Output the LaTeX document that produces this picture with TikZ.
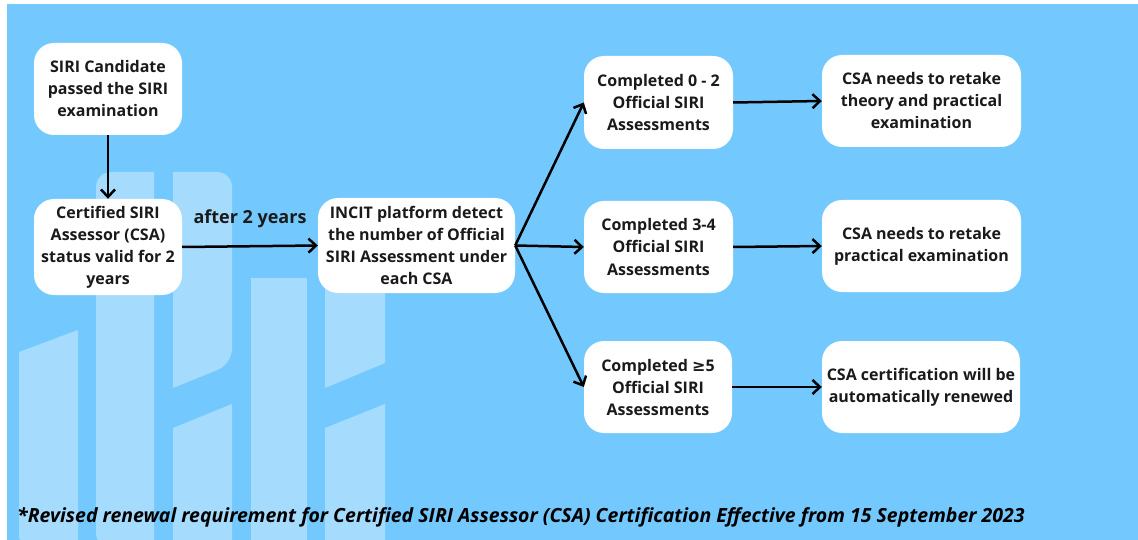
\documentclass[tikz,border=0pt]{standalone}
\usepackage{fontspec}
\setmainfont{Open Sans}
\newfontfamily\symfont{DejaVu Sans}
\usetikzlibrary{arrows.meta}
\definecolor{bgblue}{HTML}{73C9FD}
\definecolor{barblue}{HTML}{A5DCFD}
\definecolor{ink}{HTML}{1A1A1A}
\tikzset{
  box/.style={fill=white, rounded corners=20pt, align=center, font=\fontsize{16}{22}\selectfont\bfseries, text=ink, inner sep=0pt},
  conn/.style={draw=black, line width=2.5pt, -{Straight Barb[length=7.5pt,width=14pt,line width=2.5pt]}},
  bar/.style={fill=barblue, draw=none}
}
\begin{document}
\begin{tikzpicture}[x=1pt,y=-1pt]
\useasboundingbox (0,0) rectangle (1138,540);
\fill[white] (0,0) rectangle (1138,540);
\fill[bgblue] (7,4) rectangle (1138,540);
% background bars
\begin{scope}
\clip (7,4) rectangle (1138,540);
\fill[bar] (19,352) -- (78,330) -- (78,548) [rounded corners=12pt] -- (19,548) [sharp corners] -- cycle;
\fill[bar] (154,548) -- (154,172) [rounded corners=15pt] -- (96,172) -- (96,548) [sharp corners] -- cycle;
\fill[bar] (173,388) -- (173,172) [rounded corners=15pt] -- (232,172) -- (232,364) [sharp corners] -- cycle;
\fill[bar] (173,428) -- (232,404) -- (232,548) -- (173,548) -- cycle;
\fill[bar] (251,278) -- (307,278) -- (307,548) -- (251,548) -- cycle;
\fill[bar] (325,250) -- (385,250) -- (385,363) -- (325,388) -- cycle;
\fill[bar] (325,428) -- (385,404) -- (385,548) -- (325,548) -- cycle;
\end{scope}
% nodes
\node[box, minimum width=148pt, minimum height=92pt] (a) at (108,89) {SIRI Candidate\\passed the SIRI\\examination};
\node[box, minimum width=148pt, minimum height=96pt] (b) at (108,247) {Certified SIRI\\Assessor (CSA)\\status valid for 2\\years};
\node[box, minimum width=197pt, minimum height=95pt] (c) at (416.5,245.5) {INCIT platform detect\\the number of Official\\SIRI Assessment under\\each CSA};
\node[box, minimum width=149pt, minimum height=93pt] (d1) at (658.5,102.5) {Completed 0 - 2\\Official SIRI\\Assessments};
\node[box, minimum width=149pt, minimum height=92pt] (d2) at (658.5,247) {Completed 3-4\\Official SIRI\\Assessments};
\node[box, minimum width=148pt, minimum height=92pt] (d3) at (658,387) {Completed {\symfont\bfseries ≥}5\\Official SIRI\\Assessments};
\node[box, minimum width=199pt, minimum height=92pt] (e1) at (921.5,101) {CSA needs to retake\\theory and practical\\examination};
\node[box, minimum width=199pt, minimum height=92pt] (e2) at (921.5,246) {CSA needs to retake\\practical examination};
\node[box, minimum width=198pt, minimum height=92pt] (e3) at (921,387) {CSA certification will be\\automatically renewed};
\node[font=\fontsize{18}{20}\selectfont\bfseries, text=ink, inner sep=0pt] (lbl) at (250,219) {after 2 years};
\node[font=\fontsize{19.5}{22}\selectfont\bfseries\itshape, text=black, anchor=west, inner sep=0pt] (foot) at (17,517) {*Revised renewal requirement for Certified SIRI Assessor (CSA) Certification Effective from 15 September 2023};
% connectors
\draw[conn] (a.south) -- (b.north);
\draw[conn] (b.east) -- (c.west);
\draw[conn] (c.east) -- (d1.west);
\draw[conn] (c.east) -- (d2.west);
\draw[conn] (c.east) -- (d3.west);
\draw[conn] (d1.east) -- (e1.west);
\draw[conn] (d2.east) -- (e2.west);
\draw[conn] (d3.east) -- (e3.west);
\end{tikzpicture}
\end{document}
